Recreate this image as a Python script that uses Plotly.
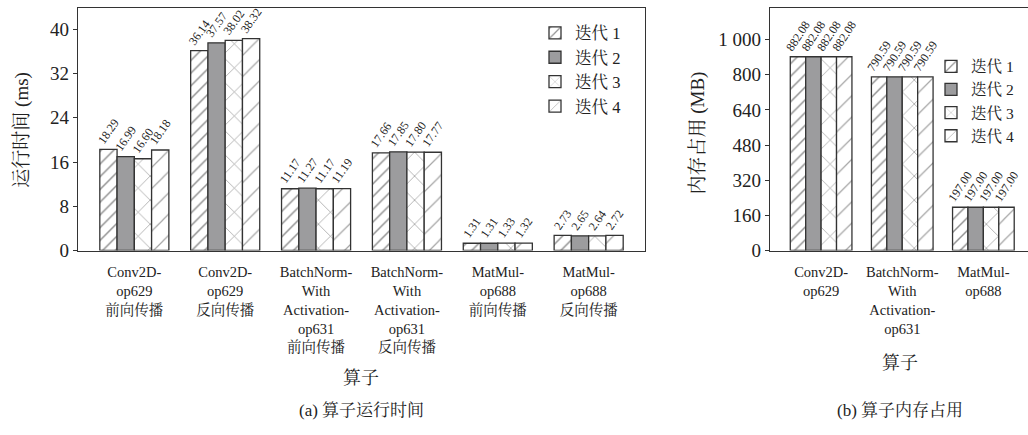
import plotly.graph_objects as go

# ---------------- data ----------------
time_categories = [
    "Conv2D-<br>op629<br>前向传播",
    "Conv2D-<br>op629<br>反向传播",
    "BatchNorm-<br>With<br>Activation-<br>op631<br>前向传播",
    "BatchNorm-<br>With<br>Activation-<br>op631<br>反向传播",
    "MatMul-<br>op688<br>前向传播",
    "MatMul-<br>op688<br>反向传播",
]
time_iter1 = [18.29, 36.14, 11.17, 17.66, 1.31, 2.73]
time_iter2 = [16.99, 37.57, 11.27, 17.85, 1.31, 2.65]
time_iter3 = [16.60, 38.02, 11.17, 17.80, 1.33, 2.64]
time_iter4 = [18.18, 38.32, 11.19, 17.77, 1.32, 2.72]

mem_categories = [
    "Conv2D-<br>op629",
    "BatchNorm-<br>With<br>Activation-<br>op631",
    "MatMul-<br>op688",
]
mem_iter1 = [882.08, 790.59, 197.00]
mem_iter2 = [882.08, 790.59, 197.00]
mem_iter3 = [882.08, 790.59, 197.00]
mem_iter4 = [882.08, 790.59, 197.00]

series_names = ["迭代 1", "迭代 2", "迭代 3", "迭代 4"]
time_ticks = [0, 8, 16, 24, 32, 40]
mem_tickvals = [0, 160, 320, 480, 640, 800, 960]
mem_ticktext = ["0", "160", "320", "480", "640", "800", "1 000"]

# ---------------- styling ----------------
W, H = 1028, 435
FONT = "Liberation Serif, Noto Serif CJK SC, Noto Sans CJK SC, serif"
LINE = "#333333"
GRAY = "#9c9c9e"
TXT = "#222222"

styles = [
    dict(color="white", pattern=dict(shape="/", fgcolor="#1e1e1e", bgcolor="white", size=9, solidity=0.16, fillmode="overlay")),
    dict(color=GRAY),
    dict(color="white", pattern=dict(shape="x", fgcolor="#2e2e2e", bgcolor="white", size=17, solidity=0.08, fillmode="overlay")),
    dict(color="white", pattern=dict(shape="/", fgcolor="#4a4a4a", bgcolor="white", size=15, solidity=0.08, fillmode="overlay")),
]


def px(x):
    return x / W


def py(y):
    return 1 - y / H


fig = go.Figure()

time_series = [time_iter1, time_iter2, time_iter3, time_iter4]
mem_series = [mem_iter1, mem_iter2, mem_iter3, mem_iter4]
xt = list(range(len(time_categories)))
xm = list(range(len(mem_categories)))

for i, vals in enumerate(time_series):
    m = dict(styles[i])
    m["line"] = dict(color=LINE, width=1.3)
    fig.add_trace(go.Bar(
        x=xt, y=vals, name=series_names[i], marker=m,
        text=[f"{v:.2f}" for v in vals], textposition="outside",
        textangle=-55, constraintext="none", cliponaxis=False,
        textfont=dict(family=FONT, size=12, color=TXT),
        xaxis="x", yaxis="y", legend="legend",
    ))

for i, vals in enumerate(mem_series):
    m = dict(styles[i])
    m["line"] = dict(color=LINE, width=1.3)
    fig.add_trace(go.Bar(
        x=xm, y=vals, name=series_names[i], marker=m,
        text=[f"{v:.2f}" for v in vals], textposition="outside",
        textangle=-57, constraintext="none", cliponaxis=False,
        textfont=dict(family=FONT, size=12, color=TXT),
        xaxis="x2", yaxis="y2", legend="legend2",
    ))

axis_common = dict(showgrid=False, zeroline=False, linecolor=LINE, linewidth=1.3,
                   tickfont=dict(family=FONT, size=19, color=TXT))
xaxis_common = dict(showgrid=False, zeroline=False, linecolor=LINE, linewidth=1.3,
                    ticks="", ticklabelstandoff=8,
                    tickfont=dict(family=FONT, size=14.5, color=TXT))

fig.update_layout(
    width=W, height=H,
    margin=dict(l=0, r=0, t=0, b=0),
    paper_bgcolor="white", plot_bgcolor="white",
    font=dict(family=FONT, color=TXT),
    barmode="group", bargap=0.24, bargroupgap=0,
    showlegend=True,
    xaxis=dict(domain=[px(78), px(645)], range=[-0.62, 5.62],
               tickvals=xt, ticktext=time_categories, showline=True, mirror=True,
               anchor="y", **xaxis_common),
    yaxis=dict(domain=[py(257), py(8)], range=[0, 43.9], tickvals=time_ticks,
               showline=True, mirror=True, ticks="outside", ticklen=4, tickcolor=LINE,
               anchor="x", **axis_common),
    xaxis2=dict(domain=[px(770), 1.0], range=[-0.63, 2.55],
                tickvals=xm, ticktext=mem_categories, showline=True, mirror=True,
                anchor="y2", **xaxis_common),
    yaxis2=dict(domain=[py(257), py(8)], range=[0, 1105], tickvals=mem_tickvals,
                ticktext=mem_ticktext, showline=True, mirror=False, ticks="outside",
                ticklen=4, tickcolor=LINE, anchor="x2", **axis_common),
    legend=dict(x=px(535), y=py(16), xanchor="left", yanchor="top",
                bgcolor="rgba(0,0,0,0)", font=dict(family=FONT, size=16.5, color=TXT),
                itemclick=False, tracegroupgap=0),
    legend2=dict(x=px(931), y=py(51), xanchor="left", yanchor="top",
                 bgcolor="rgba(0,0,0,0)", font=dict(family=FONT, size=15.5, color=TXT),
                 itemclick=False, tracegroupgap=0),
)

annotations = [
    dict(text="运行时间 (ms)", x=px(22), y=py(133), textangle=-90, font=dict(family=FONT, size=19, color=TXT)),
    dict(text="内存占用 (MB)", x=px(698), y=py(137), textangle=-90, font=dict(family=FONT, size=19, color=TXT)),
    dict(text="算子", x=px(361), y=py(388), font=dict(family=FONT, size=18, color=TXT)),
    dict(text="算子", x=px(900), y=py(372), font=dict(family=FONT, size=18, color=TXT)),
    dict(text="(a) 算子运行时间", x=px(361), y=py(421), font=dict(family=FONT, size=17, color=TXT)),
    dict(text="(b) 算子内存占用", x=px(900), y=py(421), font=dict(family=FONT, size=17, color=TXT)),
]
for a in annotations:
    a.update(xref="paper", yref="paper", showarrow=False, xanchor="center", yanchor="middle")
fig.update_layout(annotations=annotations)

fig.write_html(
    "out.html",
    config={"displayModeBar": False},
    post_script="document.body.style.margin='0px';document.body.style.overflow='hidden';",
)
